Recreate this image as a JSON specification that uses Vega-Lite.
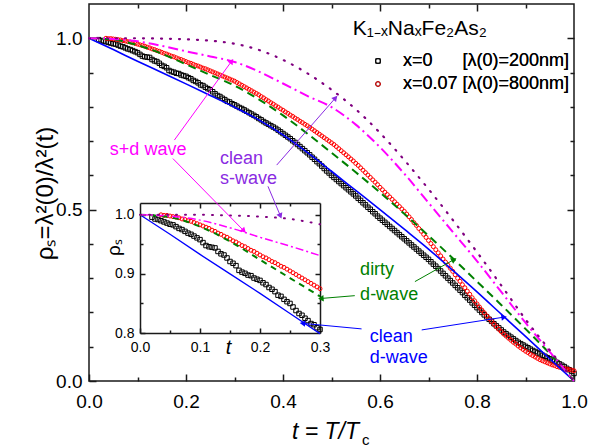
{
"$schema": "https://vega.github.io/schema/vega-lite/v6.json",
"width": 485, "height": 377,
"autosize": {"type": "none"},
"padding": {"left": 89, "top": 4, "right": 25, "bottom": 67},
"background": "white",
"config": {
  "font": "Liberation Sans",
  "view": {"stroke": "#1a1a1a", "strokeWidth": 1.5},
  "axis": {"grid": false, "domain": false, "labelColor": "black", "tickColor": "#1a1a1a", "tickWidth": 1.5, "domainColor": "#1a1a1a", "domainWidth": 1.5, "titleColor": "black", "labelFont": "Liberation Sans", "titleFont": "Liberation Sans", "titleFontWeight": "normal", "labelFlush": false, "labelOverlap": false},
  "legend": {"labelFontSize": 18, "labelFont": "Liberation Sans", "labelColor": "black", "labelOffset": 16, "symbolSize": 22, "symbolStrokeWidth": 1, "rowPadding": 5, "padding": 0, "labelLimit": 0}
},
"datasets": {
  "x0": [
    {"t":0.020,"r":0.996},{"t":0.025,"r":0.993},{"t":0.030,"r":0.992},{"t":0.035,"r":0.990},{"t":0.040,"r":0.988},{"t":0.045,"r":0.986},{"t":0.050,"r":0.984},{"t":0.055,"r":0.983},{"t":0.060,"r":0.980},{"t":0.065,"r":0.977},{"t":0.070,"r":0.975},{"t":0.075,"r":0.972},{"t":0.080,"r":0.969},{"t":0.085,"r":0.967},{"t":0.090,"r":0.964},{"t":0.095,"r":0.961},{"t":0.100,"r":0.958},{"t":0.105,"r":0.953},{"t":0.110,"r":0.948},{"t":0.115,"r":0.946},{"t":0.120,"r":0.945},{"t":0.125,"r":0.944},{"t":0.130,"r":0.938},{"t":0.135,"r":0.934},{"t":0.140,"r":0.932},{"t":0.145,"r":0.927},{"t":0.150,"r":0.921},{"t":0.155,"r":0.918},{"t":0.160,"r":0.914},{"t":0.165,"r":0.906},{"t":0.170,"r":0.903},{"t":0.175,"r":0.901},{"t":0.180,"r":0.898},{"t":0.185,"r":0.897},{"t":0.190,"r":0.893},{"t":0.195,"r":0.891},{"t":0.200,"r":0.889},{"t":0.205,"r":0.885},{"t":0.210,"r":0.882},{"t":0.215,"r":0.877},{"t":0.220,"r":0.874},{"t":0.225,"r":0.870},{"t":0.230,"r":0.864},{"t":0.235,"r":0.862},{"t":0.240,"r":0.857},{"t":0.245,"r":0.853},{"t":0.250,"r":0.850},{"t":0.255,"r":0.844},{"t":0.260,"r":0.838},{"t":0.265,"r":0.833},{"t":0.270,"r":0.830},{"t":0.275,"r":0.825},{"t":0.280,"r":0.821},{"t":0.285,"r":0.816},{"t":0.290,"r":0.814},{"t":0.295,"r":0.809},{"t":0.300,"r":0.806},
    {"t":0.305,"r":0.802},{"t":0.310,"r":0.798},{"t":0.315,"r":0.795},{"t":0.320,"r":0.791},{"t":0.325,"r":0.787},{"t":0.330,"r":0.783},{"t":0.335,"r":0.779},{"t":0.340,"r":0.775},{"t":0.345,"r":0.771},{"t":0.350,"r":0.766},{"t":0.355,"r":0.762},{"t":0.360,"r":0.757},{"t":0.365,"r":0.753},{"t":0.370,"r":0.749},{"t":0.375,"r":0.745},{"t":0.380,"r":0.741},{"t":0.385,"r":0.737},{"t":0.390,"r":0.732},{"t":0.395,"r":0.727},{"t":0.400,"r":0.722},{"t":0.405,"r":0.717},{"t":0.410,"r":0.712},{"t":0.415,"r":0.707},{"t":0.420,"r":0.701},{"t":0.425,"r":0.696},{"t":0.430,"r":0.690},{"t":0.435,"r":0.684},{"t":0.440,"r":0.678},{"t":0.445,"r":0.672},{"t":0.450,"r":0.666},{"t":0.455,"r":0.660},{"t":0.460,"r":0.653},{"t":0.465,"r":0.647},{"t":0.470,"r":0.640},{"t":0.475,"r":0.634},{"t":0.480,"r":0.627},{"t":0.485,"r":0.620},{"t":0.490,"r":0.613},{"t":0.495,"r":0.607},{"t":0.500,"r":0.600},
    {"t":0.505,"r":0.594},{"t":0.510,"r":0.588},{"t":0.515,"r":0.582},{"t":0.520,"r":0.576},{"t":0.525,"r":0.570},{"t":0.530,"r":0.564},{"t":0.535,"r":0.558},{"t":0.540,"r":0.552},{"t":0.545,"r":0.546},{"t":0.550,"r":0.540},{"t":0.555,"r":0.533},{"t":0.560,"r":0.527},{"t":0.565,"r":0.520},{"t":0.570,"r":0.514},{"t":0.575,"r":0.507},{"t":0.580,"r":0.501},{"t":0.585,"r":0.494},{"t":0.590,"r":0.488},{"t":0.595,"r":0.481},{"t":0.600,"r":0.475},{"t":0.605,"r":0.469},{"t":0.610,"r":0.463},{"t":0.615,"r":0.457},{"t":0.620,"r":0.451},{"t":0.625,"r":0.445},{"t":0.630,"r":0.439},{"t":0.635,"r":0.433},{"t":0.640,"r":0.427},{"t":0.645,"r":0.421},{"t":0.650,"r":0.415},{"t":0.655,"r":0.409},{"t":0.660,"r":0.403},{"t":0.665,"r":0.397},{"t":0.670,"r":0.391},{"t":0.675,"r":0.385},{"t":0.680,"r":0.379},{"t":0.685,"r":0.373},{"t":0.690,"r":0.367},{"t":0.695,"r":0.361},{"t":0.700,"r":0.355},
    {"t":0.705,"r":0.348},{"t":0.710,"r":0.341},{"t":0.715,"r":0.335},{"t":0.720,"r":0.328},{"t":0.725,"r":0.321},{"t":0.730,"r":0.314},{"t":0.735,"r":0.307},{"t":0.740,"r":0.300},{"t":0.745,"r":0.293},{"t":0.750,"r":0.286},{"t":0.755,"r":0.279},{"t":0.760,"r":0.272},{"t":0.765,"r":0.265},{"t":0.770,"r":0.258},{"t":0.775,"r":0.250},{"t":0.780,"r":0.243},{"t":0.785,"r":0.236},{"t":0.790,"r":0.228},{"t":0.795,"r":0.221},{"t":0.800,"r":0.214},{"t":0.805,"r":0.207},{"t":0.810,"r":0.200},{"t":0.815,"r":0.193},{"t":0.820,"r":0.187},{"t":0.825,"r":0.180},{"t":0.830,"r":0.174},{"t":0.835,"r":0.167},{"t":0.840,"r":0.161},{"t":0.845,"r":0.155},{"t":0.850,"r":0.149},{"t":0.855,"r":0.143},{"t":0.860,"r":0.138},{"t":0.865,"r":0.133},{"t":0.870,"r":0.128},{"t":0.875,"r":0.123},{"t":0.880,"r":0.118},{"t":0.885,"r":0.113},{"t":0.890,"r":0.109},{"t":0.895,"r":0.105},{"t":0.900,"r":0.101},
    {"t":0.905,"r":0.097},{"t":0.910,"r":0.093},{"t":0.915,"r":0.089},{"t":0.920,"r":0.086},{"t":0.925,"r":0.082},{"t":0.930,"r":0.079},{"t":0.935,"r":0.075},{"t":0.940,"r":0.072},{"t":0.945,"r":0.068},{"t":0.950,"r":0.065},{"t":0.955,"r":0.061},{"t":0.960,"r":0.058},{"t":0.965,"r":0.054},{"t":0.970,"r":0.050},{"t":0.975,"r":0.046},{"t":0.980,"r":0.042},{"t":0.985,"r":0.037},{"t":0.990,"r":0.033},{"t":0.995,"r":0.028},{"t":1.000,"r":0.022}
  ],
  "x07": [
    {"t":0.035,"r":1.000},{"t":0.040,"r":0.999},{"t":0.045,"r":0.999},{"t":0.050,"r":0.998},{"t":0.055,"r":0.997},{"t":0.060,"r":0.996},{"t":0.065,"r":0.995},{"t":0.070,"r":0.993},{"t":0.075,"r":0.992},{"t":0.080,"r":0.990},{"t":0.085,"r":0.989},{"t":0.090,"r":0.987},{"t":0.095,"r":0.985},{"t":0.100,"r":0.983},{"t":0.105,"r":0.981},{"t":0.110,"r":0.979},{"t":0.115,"r":0.977},{"t":0.120,"r":0.974},{"t":0.125,"r":0.972},{"t":0.130,"r":0.969},{"t":0.135,"r":0.967},{"t":0.140,"r":0.964},{"t":0.145,"r":0.962},{"t":0.150,"r":0.959},{"t":0.155,"r":0.956},{"t":0.160,"r":0.954},{"t":0.165,"r":0.951},{"t":0.170,"r":0.948},{"t":0.175,"r":0.946},{"t":0.180,"r":0.943},{"t":0.185,"r":0.940},{"t":0.190,"r":0.938},{"t":0.195,"r":0.935},{"t":0.200,"r":0.932},{"t":0.205,"r":0.929},{"t":0.210,"r":0.927},{"t":0.215,"r":0.924},{"t":0.220,"r":0.921},{"t":0.225,"r":0.919},{"t":0.230,"r":0.916},{"t":0.235,"r":0.913},{"t":0.240,"r":0.911},{"t":0.245,"r":0.908},{"t":0.250,"r":0.905},{"t":0.255,"r":0.902},{"t":0.260,"r":0.899},{"t":0.265,"r":0.896},{"t":0.270,"r":0.893},{"t":0.275,"r":0.890},{"t":0.280,"r":0.887},{"t":0.285,"r":0.884},{"t":0.290,"r":0.881},{"t":0.295,"r":0.878},{"t":0.300,"r":0.875},
    {"t":0.305,"r":0.871},{"t":0.310,"r":0.867},{"t":0.315,"r":0.863},{"t":0.320,"r":0.859},{"t":0.325,"r":0.855},{"t":0.330,"r":0.851},{"t":0.335,"r":0.847},{"t":0.340,"r":0.843},{"t":0.345,"r":0.839},{"t":0.350,"r":0.835},{"t":0.355,"r":0.830},{"t":0.360,"r":0.826},{"t":0.365,"r":0.821},{"t":0.370,"r":0.817},{"t":0.375,"r":0.812},{"t":0.380,"r":0.808},{"t":0.385,"r":0.803},{"t":0.390,"r":0.799},{"t":0.395,"r":0.794},{"t":0.400,"r":0.790},{"t":0.405,"r":0.785},{"t":0.410,"r":0.781},{"t":0.415,"r":0.776},{"t":0.420,"r":0.772},{"t":0.425,"r":0.767},{"t":0.430,"r":0.763},{"t":0.435,"r":0.758},{"t":0.440,"r":0.754},{"t":0.445,"r":0.749},{"t":0.450,"r":0.745},{"t":0.455,"r":0.740},{"t":0.460,"r":0.735},{"t":0.465,"r":0.730},{"t":0.470,"r":0.725},{"t":0.475,"r":0.720},{"t":0.480,"r":0.715},{"t":0.485,"r":0.710},{"t":0.490,"r":0.705},{"t":0.495,"r":0.700},{"t":0.500,"r":0.695},
    {"t":0.505,"r":0.690},{"t":0.510,"r":0.684},{"t":0.515,"r":0.678},{"t":0.520,"r":0.672},{"t":0.525,"r":0.666},{"t":0.530,"r":0.660},{"t":0.535,"r":0.654},{"t":0.540,"r":0.648},{"t":0.545,"r":0.642},{"t":0.550,"r":0.635},{"t":0.555,"r":0.629},{"t":0.560,"r":0.622},{"t":0.565,"r":0.615},{"t":0.570,"r":0.608},{"t":0.575,"r":0.601},{"t":0.580,"r":0.594},{"t":0.585,"r":0.587},{"t":0.590,"r":0.580},{"t":0.595,"r":0.573},{"t":0.600,"r":0.565},{"t":0.605,"r":0.558},{"t":0.610,"r":0.551},{"t":0.615,"r":0.544},{"t":0.620,"r":0.537},{"t":0.625,"r":0.530},{"t":0.630,"r":0.523},{"t":0.635,"r":0.516},{"t":0.640,"r":0.509},{"t":0.645,"r":0.502},{"t":0.650,"r":0.495},{"t":0.655,"r":0.487},{"t":0.660,"r":0.479},{"t":0.665,"r":0.471},{"t":0.670,"r":0.462},{"t":0.675,"r":0.454},{"t":0.680,"r":0.445},{"t":0.685,"r":0.437},{"t":0.690,"r":0.428},{"t":0.695,"r":0.419},{"t":0.700,"r":0.410},
    {"t":0.705,"r":0.401},{"t":0.710,"r":0.392},{"t":0.715,"r":0.383},{"t":0.720,"r":0.374},{"t":0.725,"r":0.365},{"t":0.730,"r":0.356},{"t":0.735,"r":0.347},{"t":0.740,"r":0.338},{"t":0.745,"r":0.329},{"t":0.750,"r":0.320},{"t":0.755,"r":0.310},{"t":0.760,"r":0.300},{"t":0.765,"r":0.291},{"t":0.770,"r":0.281},{"t":0.775,"r":0.272},{"t":0.780,"r":0.262},{"t":0.785,"r":0.253},{"t":0.790,"r":0.243},{"t":0.795,"r":0.234},{"t":0.800,"r":0.225},{"t":0.805,"r":0.216},{"t":0.810,"r":0.207},{"t":0.815,"r":0.199},{"t":0.820,"r":0.190},{"t":0.825,"r":0.182},{"t":0.830,"r":0.174},{"t":0.835,"r":0.166},{"t":0.840,"r":0.158},{"t":0.845,"r":0.151},{"t":0.850,"r":0.144},{"t":0.855,"r":0.137},{"t":0.860,"r":0.131},{"t":0.865,"r":0.125},{"t":0.870,"r":0.119},{"t":0.875,"r":0.113},{"t":0.880,"r":0.108},{"t":0.885,"r":0.102},{"t":0.890,"r":0.097},{"t":0.895,"r":0.092},{"t":0.900,"r":0.087},
    {"t":0.905,"r":0.083},{"t":0.910,"r":0.078},{"t":0.915,"r":0.074},{"t":0.920,"r":0.070},{"t":0.925,"r":0.066},{"t":0.930,"r":0.062},{"t":0.935,"r":0.059},{"t":0.940,"r":0.056},{"t":0.945,"r":0.053},{"t":0.950,"r":0.050},{"t":0.955,"r":0.047},{"t":0.960,"r":0.045},{"t":0.965,"r":0.042},{"t":0.970,"r":0.040},{"t":0.975,"r":0.038},{"t":0.980,"r":0.036},{"t":0.985,"r":0.035},{"t":0.990,"r":0.033},{"t":0.995,"r":0.032},{"t":1.000,"r":0.030}
  ],
  "cleanD": [{"t":0,"r":1},{"t":0.05,"r":0.967},{"t":0.1,"r":0.933},{"t":0.15,"r":0.9},{"t":0.2,"r":0.867},{"t":0.25,"r":0.833},{"t":0.3,"r":0.799},{"t":0.35,"r":0.762},{"t":0.4,"r":0.718},{"t":0.45,"r":0.667},{"t":0.5,"r":0.612},{"t":0.55,"r":0.556},{"t":0.6,"r":0.5},{"t":0.65,"r":0.443},{"t":0.7,"r":0.385},{"t":0.75,"r":0.323},{"t":0.8,"r":0.26},{"t":0.85,"r":0.195},{"t":0.9,"r":0.13},{"t":0.95,"r":0.065},{"t":1,"r":0}],
  "dirtyD": [{"t":0,"r":1},{"t":0.05,"r":0.996},{"t":0.1,"r":0.98},{"t":0.15,"r":0.955},{"t":0.2,"r":0.924},{"t":0.25,"r":0.893},{"t":0.3,"r":0.862},{"t":0.35,"r":0.822},{"t":0.4,"r":0.775},{"t":0.45,"r":0.722},{"t":0.5,"r":0.666},{"t":0.55,"r":0.609},{"t":0.6,"r":0.55},{"t":0.65,"r":0.488},{"t":0.7,"r":0.424},{"t":0.75,"r":0.358},{"t":0.8,"r":0.29},{"t":0.85,"r":0.222},{"t":0.9,"r":0.152},{"t":0.95,"r":0.08},{"t":1,"r":0}],
  "sd": [{"t":0,"r":1},{"t":0.05,"r":0.998},{"t":0.1,"r":0.991},{"t":0.15,"r":0.978},{"t":0.2,"r":0.962},{"t":0.25,"r":0.947},{"t":0.3,"r":0.931},{"t":0.35,"r":0.903},{"t":0.4,"r":0.868},{"t":0.45,"r":0.832},{"t":0.5,"r":0.799},{"t":0.55,"r":0.748},{"t":0.6,"r":0.682},{"t":0.65,"r":0.605},{"t":0.7,"r":0.52},{"t":0.75,"r":0.435},{"t":0.8,"r":0.35},{"t":0.85,"r":0.26},{"t":0.9,"r":0.17},{"t":0.95,"r":0.085},{"t":1,"r":0}],
  "cleanS": [{"t":0,"r":1},{"t":0.05,"r":1},{"t":0.1,"r":1},{"t":0.15,"r":0.999},{"t":0.2,"r":0.997},{"t":0.25,"r":0.993},{"t":0.3,"r":0.984},{"t":0.35,"r":0.966},{"t":0.4,"r":0.937},{"t":0.45,"r":0.898},{"t":0.5,"r":0.85},{"t":0.55,"r":0.793},{"t":0.6,"r":0.724},{"t":0.65,"r":0.645},{"t":0.7,"r":0.56},{"t":0.75,"r":0.47},{"t":0.8,"r":0.376},{"t":0.85,"r":0.279},{"t":0.9,"r":0.18},{"t":0.95,"r":0.09},{"t":1,"r":0}],
  "notes": [
    {"t":0.043,"r":0.659,"label":"s+d wave","g":"sd"},
    {"t":0.270,"r":0.634,"label":"clean","g":"cs"},
    {"t":0.270,"r":0.574,"label":"s-wave","g":"cs"},
    {"t":0.559,"r":0.309,"label":"dirty","g":"dd"},
    {"t":0.559,"r":0.236,"label":"d-wave","g":"dd"},
    {"t":0.579,"r":0.115,"label":"clean","g":"cd"},
    {"t":0.579,"r":0.052,"label":"d-wave","g":"cd"}
  ],
  "arrows": [
    {"x1":0.176,"y1":0.703,"x2":0.293,"y2":0.931,"g":"sd"},
    {"x1":0.173,"y1":0.649,"x2":0.318,"y2":0.440,"g":"sd"},
    {"x1":0.387,"y1":0.630,"x2":0.507,"y2":0.824,"g":"cs"},
    {"x1":0.369,"y1":0.568,"x2":0.394,"y2":0.484,"g":"cs"},
    {"x1":0.672,"y1":0.290,"x2":0.751,"y2":0.353,"g":"dd"},
    {"x1":0.548,"y1":0.249,"x2":0.480,"y2":0.241,"g":"dd"},
    {"x1":0.686,"y1":0.149,"x2":0.854,"y2":0.186,"g":"cd"},
    {"x1":0.562,"y1":0.152,"x2":0.442,"y2":0.168,"g":"cd"}
  ]
},
"layer": [
  {
    "layer": [
      {"data": {"name": "x0"},
       "mark": {"type": "point", "filled": false, "strokeWidth": 1, "size": 20, "opacity": 1},
       "encoding": {
         "x": {"field": "t", "type": "quantitative", "scale": {"domain": [0, 1], "nice": false, "zero": false},
               "axis": {"orient": "bottom", "values": [0, 0.2, 0.4, 0.6, 0.8, 1], "format": ".1f", "tickSize": -7, "labelFontSize": 19, "labelPadding": 18, "title": "t = T/T", "titleFontSize": 23, "titleFontStyle": "italic", "titleX": 236, "titleY": 57, "titleBaseline": "alphabetic"}},
         "y": {"field": "r", "type": "quantitative", "scale": {"domain": [0, 1.1], "nice": false, "zero": false},
               "axis": {"orient": "left", "values": [0, 0.5, 1], "format": ".1f", "tickSize": -7, "labelFontSize": 19, "labelPadding": 14, "title": "ρₛ=λ²(0)/λ²(t)", "titleFontSize": 24, "titleX": -37, "titleY": 189, "titleBaseline": "alphabetic", "titleAngle": -90}},
         "color": {"datum": "x=0\u00a0\u00a0\u00a0\u00a0\u00a0\u00a0[λ(0)=200nm]", "type": "nominal", "scale": {"domain": ["x=0\u00a0\u00a0\u00a0\u00a0\u00a0\u00a0[λ(0)=200nm]", "x=0.07 [λ(0)=800nm]"], "range": ["#000000", "#ff0000"]}, "legend": {"orient": "none", "legendX": 280, "legendY": 48, "title": null}},
         "shape": {"datum": "x=0\u00a0\u00a0\u00a0\u00a0\u00a0\u00a0[λ(0)=200nm]", "type": "nominal", "scale": {"domain": ["x=0\u00a0\u00a0\u00a0\u00a0\u00a0\u00a0[λ(0)=200nm]", "x=0.07 [λ(0)=800nm]"], "range": ["square", "circle"]}, "legend": {"orient": "none", "legendX": 280, "legendY": 48, "title": null}}
       }},
      {"data": {"name": "x07"},
       "mark": {"type": "point", "filled": false, "strokeWidth": 1, "size": 16, "opacity": 1},
       "encoding": {
         "x": {"field": "t", "type": "quantitative", "scale": {"domain": [0, 1], "nice": false, "zero": false},
               "axis": {"orient": "bottom", "values": [0.1, 0.3, 0.5, 0.7, 0.9], "tickSize": -4, "labels": false, "title": null}},
         "y": {"field": "r", "type": "quantitative", "scale": {"domain": [0, 1.1], "nice": false, "zero": false},
               "axis": {"orient": "left", "values": [0.1, 0.2, 0.3, 0.4, 0.6, 0.7, 0.8, 0.9], "tickSize": -4, "labels": false, "title": null}},
         "color": {"datum": "x=0.07 [λ(0)=800nm]", "type": "nominal", "scale": {"domain": ["x=0\u00a0\u00a0\u00a0\u00a0\u00a0\u00a0[λ(0)=200nm]", "x=0.07 [λ(0)=800nm]"], "range": ["#000000", "#ff0000"]}, "legend": {"orient": "none", "legendX": 280, "legendY": 48, "title": null}},
         "shape": {"datum": "x=0.07 [λ(0)=800nm]", "type": "nominal", "scale": {"domain": ["x=0\u00a0\u00a0\u00a0\u00a0\u00a0\u00a0[λ(0)=200nm]", "x=0.07 [λ(0)=800nm]"], "range": ["square", "circle"]}, "legend": {"orient": "none", "legendX": 280, "legendY": 48, "title": null}}
       }},
      {"data": {"name": "cleanD"},
       "mark": {"type": "line", "color": "#0000ff", "strokeWidth": 1.6, "interpolate": "monotone"},
       "encoding": {
         "x": {"field": "t", "type": "quantitative", "scale": {"domain": [0, 1], "nice": false, "zero": false},
               "axis": {"orient": "top", "values": [0.2, 0.4, 0.6, 0.8], "tickSize": -7, "labels": false, "title": null}},
         "y": {"field": "r", "type": "quantitative", "scale": {"domain": [0, 1.1], "nice": false, "zero": false},
               "axis": {"orient": "right", "values": [0.5, 1], "tickSize": -7, "labels": false, "title": null}}
       }},
      {"data": {"name": "dirtyD"},
       "mark": {"type": "line", "color": "#008000", "strokeWidth": 2, "strokeDash": [8, 5], "interpolate": "monotone"},
       "encoding": {
         "x": {"field": "t", "type": "quantitative", "scale": {"domain": [0, 1], "nice": false, "zero": false},
               "axis": {"orient": "top", "values": [0.1, 0.3, 0.5, 0.7, 0.9], "tickSize": -4, "labels": false, "title": null}},
         "y": {"field": "r", "type": "quantitative", "scale": {"domain": [0, 1.1], "nice": false, "zero": false},
               "axis": {"orient": "right", "values": [0.1, 0.2, 0.3, 0.4, 0.6, 0.7, 0.8, 0.9], "tickSize": -4, "labels": false, "title": null}}
       }},
      {"data": {"name": "sd"},
       "mark": {"type": "line", "color": "#ff00ff", "strokeWidth": 2, "strokeDash": [10, 4, 2, 4], "interpolate": "monotone"},
       "encoding": {
         "x": {"field": "t", "type": "quantitative", "scale": {"domain": [0, 1], "nice": false, "zero": false}, "axis": null},
         "y": {"field": "r", "type": "quantitative", "scale": {"domain": [0, 1.1], "nice": false, "zero": false}, "axis": null}
       }},
      {"data": {"name": "cleanS"},
       "mark": {"type": "line", "color": "#800080", "strokeWidth": 2.2, "strokeDash": [1, 8], "strokeCap": "round", "interpolate": "monotone"},
       "encoding": {
         "x": {"field": "t", "type": "quantitative", "scale": {"domain": [0, 1], "nice": false, "zero": false}, "axis": null},
         "y": {"field": "r", "type": "quantitative", "scale": {"domain": [0, 1.1], "nice": false, "zero": false}, "axis": null}
       }}
    ],
    "resolve": {"axis": {"x": "independent", "y": "independent"}}
  },
  {
    "layer": [
      {"data": {"name": "x0"}, "transform": [{"filter": "datum.t <= 0.3001"}],
       "mark": {"type": "point", "shape": "square", "color": "#000000", "filled": false, "strokeWidth": 1, "size": 20, "opacity": 1},
       "encoding": {
         "x": {"field": "t", "type": "quantitative", "scale": {"domain": [0, 0.3], "range": [51, 231], "nice": false, "zero": false},
               "axis": {"orient": "bottom", "offset": -48, "values": [0, 0.1, 0.2, 0.3], "format": ".1f", "tickSize": -5, "labelFontSize": 14, "labelPadding": 12, "domain": true, "title": "t", "titleFontSize": 20, "titleFontStyle": "italic", "titleX": 139, "titleY": 20, "titleBaseline": "alphabetic"}},
         "y": {"field": "r", "type": "quantitative", "scale": {"domain": [0.8, 1.02], "range": [329, 199], "nice": false, "zero": false},
               "axis": {"orient": "left", "offset": -51, "values": [0.8, 0.9, 1.0], "format": ".1f", "tickSize": -5, "labelFontSize": 14, "labelPadding": 11, "domain": true, "title": "ρₛ", "titleFontSize": 19, "titleX": -21, "titleY": 243, "titleBaseline": "alphabetic", "titleAngle": -90}}
       }},
      {"data": {"name": "x07"}, "transform": [{"filter": "datum.t <= 0.3001"}],
       "mark": {"type": "point", "shape": "circle", "color": "#ff0000", "filled": false, "strokeWidth": 1, "size": 16, "opacity": 1},
       "encoding": {
         "x": {"field": "t", "type": "quantitative", "scale": {"domain": [0, 0.3], "range": [51, 231], "nice": false, "zero": false},
               "axis": {"orient": "bottom", "offset": -48, "values": [0.05, 0.15, 0.25], "tickSize": -3, "labels": false, "domain": false, "title": null}},
         "y": {"field": "r", "type": "quantitative", "scale": {"domain": [0.8, 1.02], "range": [329, 199], "nice": false, "zero": false},
               "axis": {"orient": "left", "offset": -51, "values": [0.85, 0.95], "tickSize": -3, "labels": false, "domain": false, "title": null}}
       }},
      {"data": {"name": "cleanD"}, "transform": [{"filter": "datum.t <= 0.3001"}],
       "mark": {"type": "line", "color": "#0000ff", "strokeWidth": 1.3},
       "encoding": {
         "x": {"field": "t", "type": "quantitative", "scale": {"domain": [0, 0.3], "range": [51, 231], "nice": false, "zero": false},
               "axis": {"orient": "top", "offset": -199, "values": [0.1, 0.2], "tickSize": -5, "labels": false, "domain": true, "title": null}},
         "y": {"field": "r", "type": "quantitative", "scale": {"domain": [0.8, 1.02], "range": [329, 199], "nice": false, "zero": false},
               "axis": {"orient": "right", "offset": -254, "values": [0.9, 1.0], "tickSize": -5, "labels": false, "domain": true, "title": null}}
       }},
      {"data": {"name": "dirtyD"}, "transform": [{"filter": "datum.t <= 0.3001"}],
       "mark": {"type": "line", "color": "#008000", "strokeWidth": 2, "strokeDash": [6, 5], "interpolate": "monotone"},
       "encoding": {
         "x": {"field": "t", "type": "quantitative", "scale": {"domain": [0, 0.3], "range": [51, 231], "nice": false, "zero": false},
               "axis": {"orient": "top", "offset": -199, "values": [0.05, 0.15, 0.25], "tickSize": -3, "labels": false, "domain": false, "title": null}},
         "y": {"field": "r", "type": "quantitative", "scale": {"domain": [0.8, 1.02], "range": [329, 199], "nice": false, "zero": false},
               "axis": {"orient": "right", "offset": -254, "values": [0.85, 0.95], "tickSize": -3, "labels": false, "domain": false, "title": null}}
       }},
      {"data": {"name": "sd"}, "transform": [{"filter": "datum.t <= 0.3001"}],
       "mark": {"type": "line", "color": "#ff00ff", "strokeWidth": 1.5, "strokeDash": [8, 3, 2, 3], "interpolate": "monotone"},
       "encoding": {
         "x": {"field": "t", "type": "quantitative", "scale": {"domain": [0, 0.3], "range": [51, 231], "nice": false, "zero": false}, "axis": null},
         "y": {"field": "r", "type": "quantitative", "scale": {"domain": [0.8, 1.02], "range": [329, 199], "nice": false, "zero": false}, "axis": null}
       }},
      {"data": {"name": "cleanS"}, "transform": [{"filter": "datum.t <= 0.3001"}],
       "mark": {"type": "line", "color": "#800080", "strokeWidth": 2, "strokeDash": [1, 8], "strokeCap": "round", "interpolate": "monotone"},
       "encoding": {
         "x": {"field": "t", "type": "quantitative", "scale": {"domain": [0, 0.3], "range": [51, 231], "nice": false, "zero": false}, "axis": null},
         "y": {"field": "r", "type": "quantitative", "scale": {"domain": [0.8, 1.02], "range": [329, 199], "nice": false, "zero": false}, "axis": null}
       }}
    ],
    "resolve": {"axis": {"x": "independent", "y": "independent"}}
  },
  {
    "layer": [
      {"data": {"name": "notes"},
       "mark": {"type": "text", "align": "left", "baseline": "alphabetic", "fontSize": 18, "font": "Liberation Sans"},
       "encoding": {
         "x": {"field": "t", "type": "quantitative", "scale": {"domain": [0, 1], "nice": false, "zero": false}, "axis": null},
         "y": {"field": "r", "type": "quantitative", "scale": {"domain": [0, 1.1], "nice": false, "zero": false}, "axis": null},
         "text": {"field": "label"},
         "color": {"field": "g", "type": "nominal", "scale": {"domain": ["sd", "cs", "dd", "cd"], "range": ["#ff00ff", "#8a2be2", "#008000", "#0000ff"]}, "legend": null}
       }},
      {"data": {"name": "arrows"},
       "mark": {"type": "rule", "strokeWidth": 1},
       "encoding": {
         "x": {"field": "x1", "type": "quantitative", "scale": {"domain": [0, 1], "nice": false, "zero": false}, "axis": null},
         "y": {"field": "y1", "type": "quantitative", "scale": {"domain": [0, 1.1], "nice": false, "zero": false}, "axis": null},
         "x2": {"field": "x2"},
         "y2": {"field": "y2"},
         "color": {"field": "g", "type": "nominal", "scale": {"domain": ["sd", "cs", "dd", "cd"], "range": ["#ff00ff", "#8a2be2", "#008000", "#0000ff"]}, "legend": null}
       }},
      {"data": {"name": "arrows"},
       "transform": [{"calculate": "atan2((datum.x2 - datum.x1) * 485, (datum.y2 - datum.y1) * 343) * 180 / PI", "as": "ang"}],
       "mark": {"type": "point", "shape": "triangle", "filled": true, "size": 40, "opacity": 1},
       "encoding": {
         "x": {"field": "x2", "type": "quantitative", "scale": {"domain": [0, 1], "nice": false, "zero": false}, "axis": null},
         "y": {"field": "y2", "type": "quantitative", "scale": {"domain": [0, 1.1], "nice": false, "zero": false}, "axis": null},
         "angle": {"field": "ang", "type": "quantitative", "scale": null},
         "color": {"field": "g", "type": "nominal", "scale": {"domain": ["sd", "cs", "dd", "cd"], "range": ["#ff00ff", "#8a2be2", "#008000", "#0000ff"]}, "legend": null}
       }},
      {"data": {"values": [{"t": 0.544, "r": 1.009, "label": "K₁₋ₓNaₓFe₂As₂"}]},
       "mark": {"type": "text", "align": "left", "baseline": "alphabetic", "fontSize": 21, "font": "Liberation Sans", "color": "#000000"},
       "encoding": {
         "x": {"field": "t", "type": "quantitative", "scale": {"domain": [0, 1], "nice": false, "zero": false}, "axis": null},
         "y": {"field": "r", "type": "quantitative", "scale": {"domain": [0, 1.1], "nice": false, "zero": false}, "axis": null},
         "text": {"field": "label"}
       }},
      {"data": {"values": [{"t": 0.563, "r": -0.187, "label": "c"}]},
       "mark": {"type": "text", "align": "left", "baseline": "alphabetic", "fontSize": 15, "font": "Liberation Sans", "color": "#000000"},
       "encoding": {
         "x": {"field": "t", "type": "quantitative", "scale": {"domain": [0, 1], "nice": false, "zero": false}, "axis": null},
         "y": {"field": "r", "type": "quantitative", "scale": {"domain": [0, 1.1], "nice": false, "zero": false}, "axis": null},
         "text": {"field": "label"}
       }}
    ]
  }
],
"resolve": {"scale": {"x": "independent", "y": "independent", "color": "independent"}, "axis": {"x": "independent", "y": "independent"}}
}
